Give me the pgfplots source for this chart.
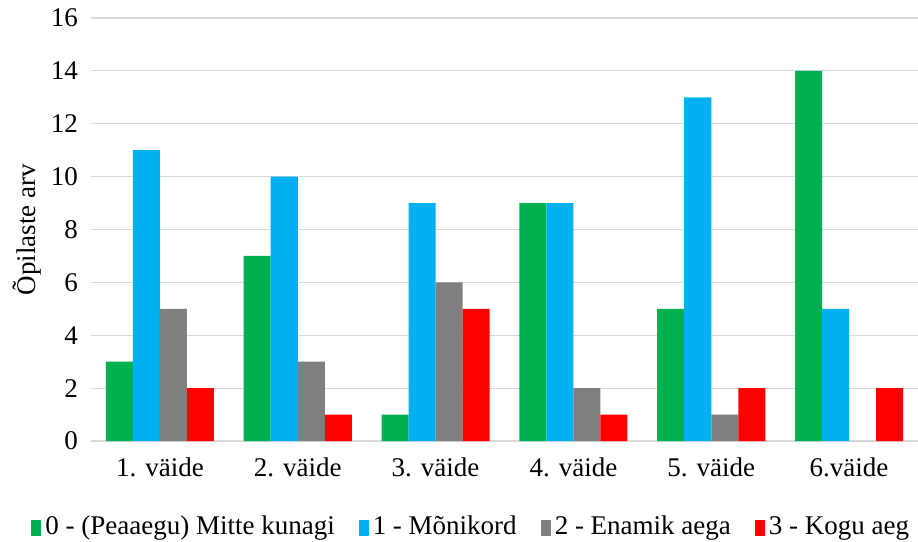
\documentclass[border=0pt]{standalone}
\usepackage{fontspec}
\setmainfont{Liberation Serif}
\usepackage{pgfplots}
\pgfplotsset{compat=1.18}
\definecolor{cgreen}{HTML}{00B050}
\definecolor{cblue}{HTML}{00B0F0}
\definecolor{cgray}{HTML}{7F7F7F}
\definecolor{cred}{HTML}{FF0000}
\definecolor{cgrid}{HTML}{D9D9D9}
\begin{document}
\begin{tikzpicture}[font=\fontsize{13.5}{16}\selectfont]
\begin{axis}[
  scale only axis,
  width=413.5pt, height=211.5pt,
  ymin=0, ymax=16, ytick={0,2,...,16},
  xmin=-0.5, xmax=5.5, xtick={0,1,2,3,4,5},
  xticklabels={1. väide, 2. väide, 3. väide, 4. väide, 5. väide, 6.väide},
  ybar=0pt, bar width=0.196,
  axis line style={draw=none},
  major tick length=0pt,
  ymajorgrids, grid style={cgrid, line width=0.6pt},
  /pgf/number format/assume math mode=true,
  tick label style={font=\fontsize{13.5}{16}\selectfont},
  yticklabel style={xshift=-3pt},
  xticklabel style={yshift=-5pt},
  ylabel={Õpilaste arv},
  ylabel style={font=\fontsize{13.5}{16}\selectfont, yshift=-2pt},
  legend columns=4,
  legend style={draw=none, at={(0.461,-0.203)}, anchor=center,
    font=\fontsize{13.5}{16}\selectfont,
    /tikz/every even column/.append style={column sep=10pt}},
  legend image code/.code={\fill[#1] (0pt,-4.5pt) rectangle (5pt,3.5pt);},
  clip=false,
]
\addplot[fill=cgreen, draw=none, bar shift=-0.294] coordinates {(0,3) (1,7) (2,1) (3,9) (4,5) (5,14)};
\addplot[fill=cblue, draw=none, bar shift=-0.098] coordinates {(0,11) (1,10) (2,9) (3,9) (4,13) (5,5)};
\addplot[fill=cgray, draw=none, bar shift=0.098] coordinates {(0,5) (1,3) (2,6) (3,2) (4,1) (5,0)};
\addplot[fill=cred, draw=none, bar shift=0.294] coordinates {(0,2) (1,1) (2,5) (3,1) (4,2) (5,2)};
\legend{0 - (Peaaegu) Mitte kunagi, 1 - Mõnikord, 2 - Enamik aega, 3 - Kogu aeg}
\coordinate (sw) at (rel axis cs:0,0);
\coordinate (ne) at (rel axis cs:1,1);
\end{axis}
\pgfresetboundingbox
\path ([shift={(-45.5pt,-50pt)}]sw) rectangle ([shift={(0pt,9pt)}]ne);
\end{tikzpicture}
\end{document}
